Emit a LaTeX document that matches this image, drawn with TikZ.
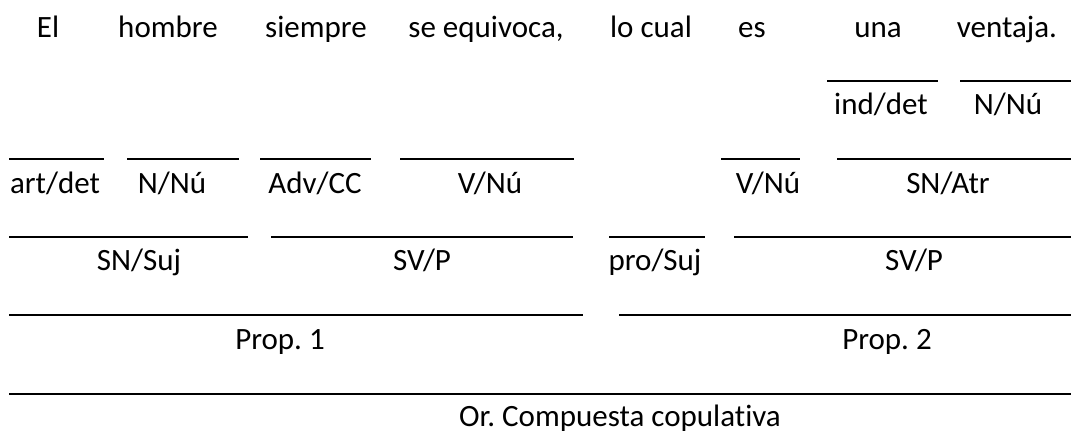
\documentclass[tikz,border=0pt]{standalone}
\usepackage{fontspec}
\setmainfont{Carlito}[Ligatures=NoCommon]
\frenchspacing
\begin{document}
\begin{tikzpicture}[x=1pt,y=-1pt,
  lbl/.style={anchor=base,inner sep=0pt,font=\fontsize{31}{36}\selectfont\frenchspacing,text=black},
  bar/.style={line width=2pt,black}]
\useasboundingbox (0,0) rectangle (1081,432);
% row 1: sentence
\node[lbl] (w1) at (48,37) {El};
\node[lbl] (w2) at (168,37) {hombre};
\node[lbl] (w3) at (316,37) {siempre};
\node[lbl] (w4) at (486,37) {se equivoca,};
\node[lbl] (w5) at (651,37) {lo cual};
\node[lbl] (w6) at (752,37) {es};
\node[lbl] (w7) at (878,37) {una};
\node[lbl] (w8) at (1007,37) {ventaja.};
% row 2
\draw[bar] (827,81) -- (938,81);
\draw[bar] (960,81) -- (1071,81);
\node[lbl] (r2a) at (881,114) {ind/det};
\node[lbl] (r2b) at (1008,114) {N/Nú};
% row 3
\draw[bar] (9,159) -- (104,159);
\draw[bar] (127,159) -- (239,159);
\draw[bar] (260,159) -- (371,159);
\draw[bar] (400,159) -- (574,159);
\draw[bar] (721,159) -- (800,159);
\draw[bar] (837,159) -- (1071,159);
\node[lbl] (r3a) at (55,193) {art/det};
\node[lbl] (r3b) at (172,193) {N/Nú};
\node[lbl] (r3c) at (315,193) {Adv/CC};
\node[lbl] (r3d) at (490,193) {V/Nú};
\node[lbl] (r3e) at (768,193) {V/Nú};
\node[lbl] (r3f) at (948,193) {SN/Atr};
% row 4
\draw[bar] (9,237) -- (248,237);
\draw[bar] (271,237) -- (573,237);
\draw[bar] (609,237) -- (705,237);
\draw[bar] (734,237) -- (1071,237);
\node[lbl] (r4a) at (139,270) {SN/Suj};
\node[lbl] (r4b) at (422,270) {SV/P};
\node[lbl] (r4c) at (655,270) {pro/Suj};
\node[lbl] (r4d) at (914,270) {SV/P};
% row 5
\draw[bar] (9,315) -- (583,315);
\draw[bar] (619,315) -- (1071,315);
\node[lbl] (r5a) at (280,349) {Prop. 1};
\node[lbl] (r5b) at (887,349) {Prop. 2};
% row 6
\draw[bar] (9,394) -- (1071,394);
\node[lbl] (r6) at (620,426) {Or. Compuesta copulativa};
\end{tikzpicture}
\end{document}
